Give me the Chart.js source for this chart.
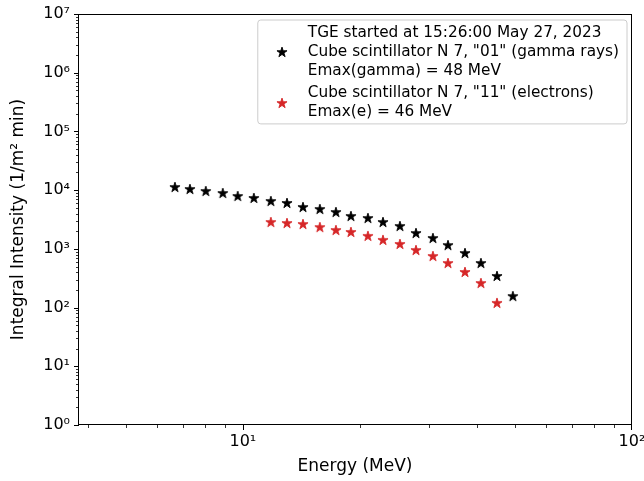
<!DOCTYPE html>
<html><head><meta charset="utf-8">
<script src="https://cdn.jsdelivr.net/npm/chart.js@4.4.1/dist/chart.umd.min.js"></script>
<style>html,body{margin:0;padding:0;background:#fff;}#wrap{position:relative;width:644px;height:481px;}canvas{display:block;}</style>
</head><body><div id="wrap"><canvas id="c" width="644" height="481"></canvas></div>
<script>
// ---- data ----
const gammaEnergy = [6.69, 7.31, 8.03, 8.88, 9.70, 10.67, 11.80, 12.98, 14.27, 15.77, 17.34, 18.95, 20.96, 22.91, 25.33, 27.85, 30.79, 33.66, 37.22, 40.9, 44.97, 49.4];
const gammaIntensity = [11300, 10450, 9660, 8930, 7940, 7350, 6530, 6040, 5160, 4770, 4240, 3620, 3350, 2860, 2450, 1860, 1530, 1160, 850, 574, 345, 157];
const electronEnergy = [11.80, 12.98, 14.27, 15.77, 17.34, 18.95, 20.96, 22.91, 25.33, 27.85, 30.79, 33.66, 37.22, 40.9, 44.97];
const electronIntensity = [2860, 2750, 2650, 2350, 2090, 1940, 1660, 1420, 1210, 955, 755, 574, 404, 262, 120];
const xTicks = [10, 100];
const yTicks = [1, 10, 100, 1e3, 1e4, 1e5, 1e6, 1e7];
const legendHeader = 'TGE started at 15:26:00 May 27, 2023';
const gammaLabel = ['Cube scintillator N 7, "01" (gamma rays)', 'Emax(gamma) = 48 MeV'];
const electronLabel = ['Cube scintillator N 7, "11" (electrons)', 'Emax(e) = 46 MeV'];
const xTitle = 'Energy (MeV)';
const yTitle = 'Integral Intensity (1/m\u00B2 min)';

const FONT = "'DejaVu Sans', sans-serif";
const SUP = ['\u2070','\u00B9','\u00B2','\u00B3','\u2074','\u2075','\u2076','\u2077','\u2078','\u2079'];
function powLabel(v){ const e = Math.round(Math.log10(v)); return '10' + String(e).split('').map(d=>SUP[+d]).join(''); }

function makeStar(color, R){
  const s = 14;
  const c = document.createElement('canvas'); c.width = s; c.height = s;
  const g = c.getContext('2d');
  const cx = s/2, cy = s/2 + 0.4;
  g.beginPath();
  for (let i = 0; i < 10; i++){
    const r = i % 2 === 0 ? R : R * 0.381966;
    const a = -Math.PI/2 + i * Math.PI/5;
    const px = cx + r*Math.cos(a), py = cy + r*Math.sin(a);
    if (i === 0) g.moveTo(px, py); else g.lineTo(px, py);
  }
  g.closePath(); g.fillStyle = color; g.fill();
  g.lineWidth = 0.9; g.lineJoin = 'round'; g.strokeStyle = color; g.stroke();
  return c;
}
const blackStar = makeStar('#000000', 5.3);
const redStar = makeStar('#d62728', 5.3);

const toPts = (xs, ys) => xs.map((x, i) => ({x: x, y: ys[i]}));

const frameTicks = {
  id: 'frameTicks',
  afterDraw(chart){
    const {ctx, chartArea: a, scales} = chart;
    ctx.save();
    ctx.strokeStyle = '#000'; ctx.lineWidth = 1;
    ctx.strokeRect(Math.round(a.left)+0.5, Math.round(a.top)+0.5, Math.round(a.right - a.left) - 1, Math.round(a.bottom - a.top) - 1);
    const drawTicks = (scale, horizontal) => {
      const lo = Math.floor(Math.log10(scale.min)), hi = Math.ceil(Math.log10(scale.max));
      for (let e = lo; e <= hi; e++){
        for (let s = 1; s <= 9; s++){
          const v = s * Math.pow(10, e);
          if (v < scale.min * 0.9999 || v > scale.max * 1.0001) continue;
          const p = Math.round(scale.getPixelForValue(v));
          const len = s === 1 ? 5 : 3;
          ctx.lineWidth = s === 1 ? 1 : 0.8;
          ctx.beginPath();
          if (horizontal){
            const y0 = Math.round(a.bottom);
            const px = Math.min(p, Math.round(a.right) - 1) + 0.5;
            ctx.moveTo(px, y0); ctx.lineTo(px, y0 + len);
          } else {
            const x0 = Math.round(a.left);
            const py = Math.max(p, Math.round(a.top)) + 0.5;
            ctx.moveTo(x0 + 1, py); ctx.lineTo(x0 - len + 1, py);
          }
          ctx.stroke();
        }
      }
    };
    drawTicks(scales.x, true);
    drawTicks(scales.y, false);
    ctx.restore();
  }
};

const legendPlugin = {
  id: 'refLegend',
  afterDraw(chart){
    const {ctx, chartArea: a} = chart;
    ctx.save();
    ctx.font = '15.3px ' + FONT;
    const entries = [
      {lines: [legendHeader].concat(gammaLabel), marker: blackStar},
      {lines: electronLabel, marker: redStar}
    ];
    let maxW = 0;
    entries.forEach(en => en.lines.forEach(t => { maxW = Math.max(maxW, ctx.measureText(t).width); }));
    const lineH = 18.6, entryGap = 4;
    const right = a.right - 5, top = a.top + 6;
    const textOff = 50;
    const left = right - (textOff + maxW + 8);
    let y = top + 13.5;
    const positions = [];
    entries.forEach((en, k) => {
      const ys = en.lines.map((t, i) => y + i*lineH);
      positions.push(ys);
      y = ys[ys.length-1] + lineH + entryGap;
    });
    const bottom = positions[1][positions[1].length-1] + 12;
    const r = 3;
    ctx.beginPath();
    ctx.moveTo(left + r, top); ctx.lineTo(right - r, top); ctx.quadraticCurveTo(right, top, right, top + r);
    ctx.lineTo(right, bottom - r); ctx.quadraticCurveTo(right, bottom, right - r, bottom);
    ctx.lineTo(left + r, bottom); ctx.quadraticCurveTo(left, bottom, left, bottom - r);
    ctx.lineTo(left, top + r); ctx.quadraticCurveTo(left, top, left + r, top);
    ctx.closePath();
    ctx.fillStyle = 'rgba(255,255,255,0.8)'; ctx.fill();
    ctx.strokeStyle = '#cccccc'; ctx.lineWidth = 1; ctx.stroke();
    ctx.fillStyle = '#000'; ctx.textAlign = 'left'; ctx.textBaseline = 'middle';
    entries.forEach((en, k) => {
      const ys = positions[k];
      en.lines.forEach((t, i) => ctx.fillText(t, left + textOff, ys[i]));
      const my = (ys[0] + ys[ys.length-1]) / 2;
      const m = en.marker;
      ctx.drawImage(m, Math.round(left + 24 - m.width/2), Math.round(my - m.height/2));
    });
    ctx.restore();
  }
};

new Chart(document.getElementById('c'), {
  type: 'scatter',
  data: {
    datasets: [
      {label: gammaLabel.join(' '), data: toPts(gammaEnergy, gammaIntensity), pointStyle: blackStar, pointRadius: 6, borderColor: '#000', backgroundColor: '#000', showLine: false},
      {label: electronLabel.join(' '), data: toPts(electronEnergy, electronIntensity), pointStyle: redStar, pointRadius: 6, borderColor: '#d62728', backgroundColor: '#d62728', showLine: false}
    ]
  },
  options: {
    responsive: false, animation: false, devicePixelRatio: 1,
    layout: {padding: {left: 0, top: 14, right: 12, bottom: 0}},
    plugins: {legend: {display: false}, tooltip: {enabled: false}},
    scales: {
      x: {
        type: 'logarithmic', position: 'bottom', min: 3.77, max: 100, bounds: 'data',
        afterBuildTicks: s => { s.ticks = xTicks.map(v => ({value: v, major: true})); },
        afterFit: s => { s.height = 56; s.paddingLeft = 0; s.paddingRight = 0; },
        grid: {display: false, drawTicks: false}, border: {display: false},
        ticks: {autoSkip: false, maxRotation: 0, padding: 7, color: '#000', font: {family: FONT, size: 16}, callback: v => powLabel(v)},
        title: {display: true, text: xTitle, color: '#000', font: {family: FONT, size: 17}, padding: {top: 0, bottom: 4}}
      },
      y: {
        type: 'logarithmic', position: 'left', min: 1, max: 1e7, bounds: 'data',
        afterBuildTicks: s => { s.ticks = yTicks.map(v => ({value: v, major: true})); },
        afterFit: s => { s.width = 78; s.paddingTop = 0; s.paddingBottom = 0; },
        grid: {display: false, drawTicks: false}, border: {display: false},
        ticks: {autoSkip: false, padding: 8, color: '#000', font: {family: FONT, size: 16}, callback: v => powLabel(v)},
        title: {display: true, text: yTitle, color: '#000', font: {family: FONT, size: 17}, padding: {top: 8, bottom: 0}}
      }
    }
  },
  plugins: [frameTicks, legendPlugin]
});
</script>
</body></html>
